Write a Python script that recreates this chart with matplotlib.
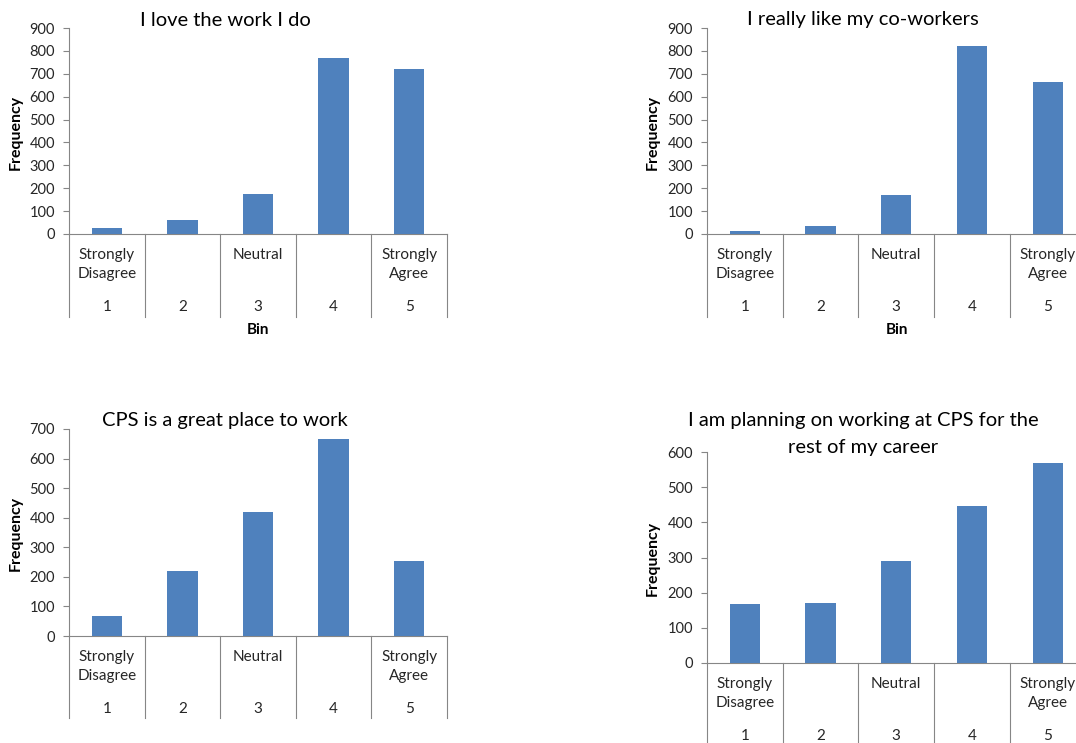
import matplotlib
matplotlib.use("Agg")
import matplotlib.pyplot as plt
from matplotlib.transforms import offset_copy, blended_transform_factory

plt.rcParams['font.family'] = ['Lato', 'DejaVu Sans']

W, H = 1076, 743
DPI = 100

bins = [1, 2, 3, 4, 5]
bin_labels = ["Strongly\nDisagree", "", "Neutral", "", "Strongly\nAgree"]

titles = ["I love the work I do",
          "I really like my co-workers",
          "CPS is a great place to work",
          "I am planning on working at CPS for the\nrest of my career"]

love_work = [28, 63, 176, 771, 720]
like_coworkers = [15, 36, 170, 822, 662]
great_place = [69, 219, 421, 666, 252]
planning_career = [167, 170, 290, 446, 570]

ymaxes = [900, 900, 700, 600]

BAR = "#4F81BD"
GRID = "#868686"
TXT = "#262626"

fig = plt.figure(figsize=(W / DPI, H / DPI), dpi=DPI)
fig.patch.set_facecolor("white")

# (left px, top px, right px, bottom px, table bottom px)
boxes = [(69, 28, 447, 234, 317),
         (707, 28, 1085.5, 234, 317),
         (69, 429, 447, 636, 718),
         (707, 452, 1085.5, 663, 760)]
title_pos = [(225, 20), (863, 19), (225, 420), (863, 420)]
freq_pos = [(16, 132), (653, 132), (16, 533), (653, 558)]
bin_pos = [(258, 330), (897, 330), None, None]

series = [love_work, like_coworkers, great_place, planning_career]

pix = lambda x, y: (x / W, 1 - y / H)

for i, vals in enumerate(series):
    l, t, r, b, tb = boxes[i]
    ax = fig.add_axes([l / W, 1 - b / H, (r - l) / W, (b - t) / H])
    x = list(range(len(bins)))
    ax.bar(x, vals, width=0.4, color=BAR, zorder=3)
    ax.set_xlim(-0.5, len(bins) - 0.5)
    ax.set_ylim(0, ymaxes[i])
    ax.set_yticks(range(0, ymaxes[i] + 1, 100))
    ax.tick_params(axis='y', direction='out', length=4, width=0.8, color=GRID,
                   labelsize=10.5, labelcolor=TXT, pad=6)
    ax.set_xticks([])
    for s in ['top', 'right']:
        ax.spines[s].set_visible(False)
    ax.spines['left'].set_color(GRID)
    ax.spines['bottom'].set_color(GRID)
    ax.spines['left'].set_linewidth(0.8)
    ax.spines['bottom'].set_linewidth(0.8)
    ax.patch.set_alpha(0)

    # table lines below the axis
    depth = (tb - b) / (b - t)
    trans = blended_transform_factory(ax.transData, ax.transAxes)
    for k in range(len(bins) + 1):
        ax.plot([k - 0.5, k - 0.5], [0, -depth], transform=trans, color=GRID,
                lw=0.8, clip_on=False)
    # category labels
    for k, (bn, lab) in enumerate(zip(bins, bin_labels)):
        if lab:
            tr = offset_copy(trans, fig=fig, x=0, y=-14, units='dots')
            ax.text(k, 0, lab, transform=tr, ha='center', va='top',
                    fontsize=11, color=TXT, linespacing=1.45)
        tr2 = offset_copy(trans, fig=fig, x=0, y=-73, units='dots')
        ax.text(k, 0, str(bn), transform=tr2, ha='center', va='center',
                fontsize=11, color=TXT)

    tx, ty = title_pos[i]
    for j, line in enumerate(titles[i].split("\n")):
        fig.text(*pix(tx, ty + 27 * j), line, ha='center', va='center',
                 fontsize=14.5, color='black')
    fx, fy = freq_pos[i]
    fig.text(*pix(fx, fy), "Frequency", rotation=90, ha='center', va='center',
             fontsize=11.5, fontweight='bold', color='black')
    if bin_pos[i]:
        bx, by = bin_pos[i]
        fig.text(*pix(bx, by), "Bin", ha='center', va='center', fontsize=11,
                 fontweight='bold', color='black')

fig.savefig("out.png", dpi=DPI)
